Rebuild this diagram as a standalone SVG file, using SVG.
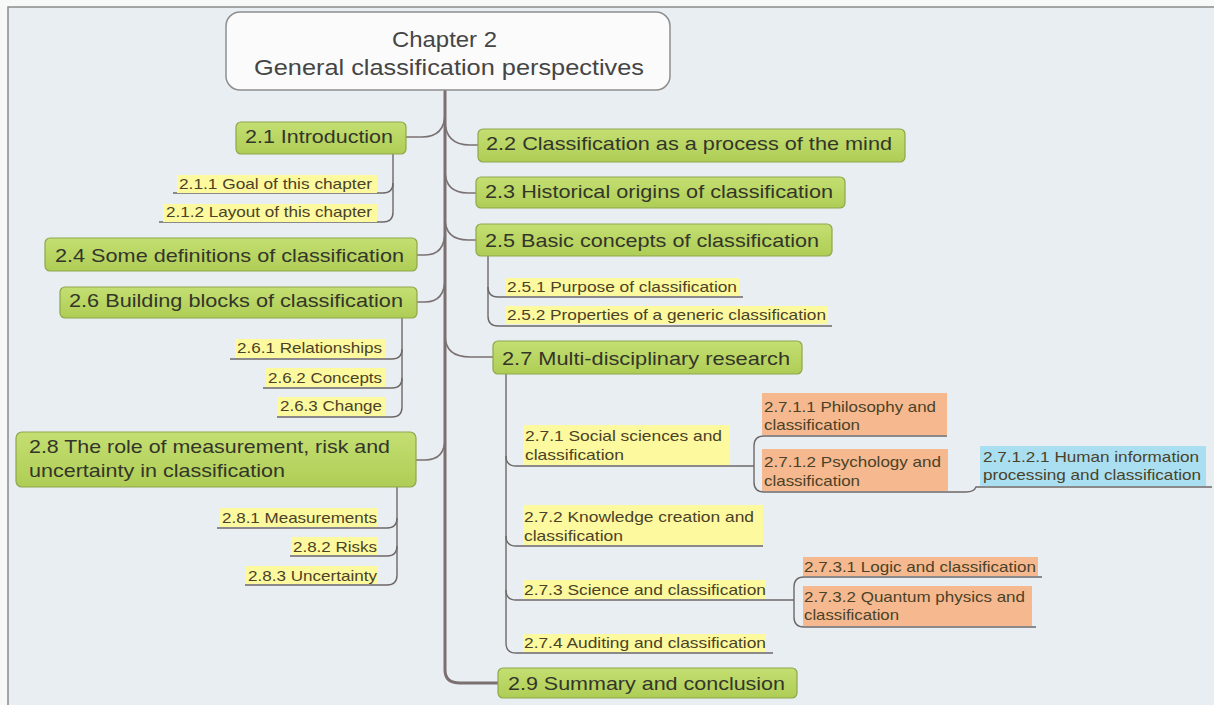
<svg xmlns="http://www.w3.org/2000/svg" width="1214" height="705" viewBox="0 0 1214 705">
<style>
.bg{fill:#e9eef2}
.frame{fill:none;stroke:#8a8a8a;stroke-width:1.5}
.root{fill:#fbfbfb;stroke:#8e8e8e;stroke-width:1.5}
.main{fill:url(#g);stroke:#8fa64c;stroke-width:1.2}
.mt{font-family:"Liberation Sans",Arial,sans-serif;font-size:19px;fill:#34352a}
.rt{font-family:"Liberation Sans",Arial,sans-serif;font-size:22px;fill:#454545}
.st{font-family:"Liberation Sans",Arial,sans-serif;font-size:15px;fill:#4a4228}
.y{fill:#fdf99e}
.o{fill:#f6b98f}
.b{fill:#aadff1}
.trunk{fill:none;stroke:#7b6f70;stroke-width:3}
.c{fill:none;stroke:#7b7172;stroke-width:1.6}
.u{fill:none;stroke:#6e6868;stroke-width:1.4}
</style>
<defs>
<linearGradient id="g" x1="0" y1="0" x2="0" y2="1">
<stop offset="0" stop-color="#c4df72"/>
<stop offset="1" stop-color="#aecd55"/>
</linearGradient>
</defs>
<rect x="0" y="0" width="1214" height="705" fill="#f7f8f8"/>
<rect class="bg" x="8" y="7" width="1206" height="698"/>
<path class="frame" d="M8,705 L8,7 L1214,7"/>

<g id="connectors">
<path class="trunk" d="M445,90 L445,670 Q445,683 460,683 L498,683"/>
<path class="c" d="M406,137 L422,137 Q445,137 445,113"/>
<path class="c" d="M417,255 L425,255 Q445,255 445,231"/>
<path class="c" d="M417,302 L425,302 Q445,302 445,278"/>
<path class="c" d="M416,460 L425,460 Q445,460 445,438"/>
<path class="c" d="M445,120 Q445,145 470,145 L478,145"/>
<path class="c" d="M445,170 Q445,193 468,193 L476,193"/>
<path class="c" d="M445,218 Q445,240 468,240 L476,240"/>
<path class="c" d="M445,335 Q445,357 470,357 L493,357"/>
<path class="u" d="M393,154 L393,212 Q393,222 383,222 L159,222"/>
<path class="u" d="M393,183 Q393,193 383,193 L173,193"/>
<path class="u" d="M488,256 L488,316 Q488,326 498,326 L832,326"/>
<path class="u" d="M488,287 Q488,297 498,297 L743,297"/>
<path class="u" d="M402,318 L402,407 Q402,417 392,417 L277,417"/>
<path class="u" d="M402,349 Q402,359 392,359 L230,359"/>
<path class="u" d="M402,378 Q402,388 392,388 L263,388"/>
<path class="u" d="M397,487 L397,575 Q397,585 387,585 L245,585"/>
<path class="u" d="M397,518 Q397,528 387,528 L217,528"/>
<path class="u" d="M397,546 Q397,556 387,556 L290,556"/>
<path class="u" d="M506,374 L506,643 Q506,653 516,653 L773,653"/>
<path class="u" d="M506,456 Q506,466 516,466 L754,466"/>
<path class="u" d="M506,536 Q506,546 516,546 L763,546"/>
<path class="u" d="M506,590 Q506,600 516,600 L794,600"/>
<path class="u" d="M947,436 L764,436 Q754,436 754,446 L754,482 Q754,492 764,492 L966,492 Q974,492 976,487 L1212,487"/>
<path class="u" d="M1042,577 L804,577 Q794,577 794,587 L794,617 Q794,627 804,627 L1036,627"/>
</g>

<g id="root">
<rect class="root" x="226" y="12" width="444" height="78" rx="14"/>
<text class="rt" x="392" y="47" textLength="105" lengthAdjust="spacingAndGlyphs">Chapter 2</text>
<text class="rt" x="254" y="75" textLength="390" lengthAdjust="spacingAndGlyphs">General classification perspectives</text>
</g>

<g id="n21"><rect class="main" x="236" y="122" width="170" height="32" rx="5"/><text class="mt" x="245" y="143" textLength="148" lengthAdjust="spacingAndGlyphs">2.1 Introduction</text></g>
<g id="n22"><rect class="main" x="478" y="129" width="427" height="33" rx="5"/><text class="mt" x="486" y="150" textLength="406" lengthAdjust="spacingAndGlyphs">2.2 Classification as a process of the mind</text></g>
<g id="n23"><rect class="main" x="476" y="177" width="369" height="31" rx="5"/><text class="mt" x="485" y="198" textLength="348" lengthAdjust="spacingAndGlyphs">2.3 Historical origins of classification</text></g>
<g id="n24"><rect class="main" x="45" y="238" width="372" height="33" rx="5"/><text class="mt" x="55" y="262" textLength="349" lengthAdjust="spacingAndGlyphs">2.4 Some definitions of classification</text></g>
<g id="n25"><rect class="main" x="476" y="224" width="356" height="32" rx="5"/><text class="mt" x="485" y="247" textLength="334" lengthAdjust="spacingAndGlyphs">2.5 Basic concepts of classification</text></g>
<g id="n26"><rect class="main" x="60" y="287" width="357" height="31" rx="5"/><text class="mt" x="69" y="307" textLength="334" lengthAdjust="spacingAndGlyphs">2.6 Building blocks of classification</text></g>
<g id="n27"><rect class="main" x="493" y="341" width="309" height="33" rx="5"/><text class="mt" x="502" y="365" textLength="288" lengthAdjust="spacingAndGlyphs">2.7 Multi-disciplinary research</text></g>
<g id="n28"><rect class="main" x="16" y="432" width="400" height="55" rx="6"/><text class="mt" x="29" y="453" textLength="361" lengthAdjust="spacingAndGlyphs">2.8 The role of measurement, risk and</text><text class="mt" x="29" y="477" textLength="256" lengthAdjust="spacingAndGlyphs">uncertainty in classification</text></g>
<g id="n29"><rect class="main" x="498" y="668" width="299" height="30" rx="5"/><text class="mt" x="508" y="690" textLength="277" lengthAdjust="spacingAndGlyphs">2.9 Summary and conclusion</text></g>

<g id="n211"><rect class="y" x="177" y="175" width="200" height="18"/><text class="st" x="179" y="189" textLength="193" lengthAdjust="spacingAndGlyphs">2.1.1 Goal of this chapter</text></g>
<g id="n212"><rect class="y" x="163" y="204" width="214" height="18"/><text class="st" x="166" y="217" textLength="206" lengthAdjust="spacingAndGlyphs">2.1.2 Layout of this chapter</text></g>
<g id="n251"><rect class="y" x="506" y="278" width="233" height="18"/><text class="st" x="507" y="292" textLength="230" lengthAdjust="spacingAndGlyphs">2.5.1 Purpose of classification</text></g>
<g id="n252"><rect class="y" x="506" y="306" width="322" height="18"/><text class="st" x="507" y="320" textLength="319" lengthAdjust="spacingAndGlyphs">2.5.2 Properties of a generic classification</text></g>
<g id="n261"><rect class="y" x="235" y="339" width="150" height="19"/><text class="st" x="237" y="353" textLength="145" lengthAdjust="spacingAndGlyphs">2.6.1 Relationships</text></g>
<g id="n262"><rect class="y" x="266" y="368" width="119" height="19"/><text class="st" x="268" y="383" textLength="114" lengthAdjust="spacingAndGlyphs">2.6.2 Concepts</text></g>
<g id="n263"><rect class="y" x="278" y="397" width="107" height="19"/><text class="st" x="280" y="411" textLength="102" lengthAdjust="spacingAndGlyphs">2.6.3 Change</text></g>
<g id="n281"><rect class="y" x="220" y="508" width="158" height="19"/><text class="st" x="222" y="523" textLength="155" lengthAdjust="spacingAndGlyphs">2.8.1 Measurements</text></g>
<g id="n282"><rect class="y" x="291" y="537" width="87" height="18"/><text class="st" x="293" y="552" textLength="84" lengthAdjust="spacingAndGlyphs">2.8.2 Risks</text></g>
<g id="n283"><rect class="y" x="246" y="566" width="132" height="18"/><text class="st" x="248" y="581" textLength="129" lengthAdjust="spacingAndGlyphs">2.8.3 Uncertainty</text></g>
<g id="n271"><rect class="y" x="523" y="425" width="207" height="40"/><text class="st" x="525" y="441" textLength="197" lengthAdjust="spacingAndGlyphs">2.7.1 Social sciences and</text><text class="st" x="525" y="460" textLength="99" lengthAdjust="spacingAndGlyphs">classification</text></g>
<g id="n2711"><rect class="o" x="762" y="393" width="185" height="42"/><text class="st" x="764" y="412" textLength="172" lengthAdjust="spacingAndGlyphs">2.7.1.1 Philosophy and</text><text class="st" x="764" y="430" textLength="96" lengthAdjust="spacingAndGlyphs">classification</text></g>
<g id="n2712"><rect class="o" x="762" y="449" width="186" height="42"/><text class="st" x="764" y="467" textLength="177" lengthAdjust="spacingAndGlyphs">2.7.1.2 Psychology and</text><text class="st" x="764" y="486" textLength="96" lengthAdjust="spacingAndGlyphs">classification</text></g>
<g id="n27121"><rect class="b" x="980" y="446" width="226" height="40"/><text class="st" x="983" y="462" textLength="216" lengthAdjust="spacingAndGlyphs">2.7.1.2.1 Human information</text><text class="st" x="983" y="480" textLength="218" lengthAdjust="spacingAndGlyphs">processing and classification</text></g>
<g id="n272"><rect class="y" x="523" y="505" width="240" height="40"/><text class="st" x="524" y="522" textLength="230" lengthAdjust="spacingAndGlyphs">2.7.2 Knowledge creation and</text><text class="st" x="524" y="541" textLength="99" lengthAdjust="spacingAndGlyphs">classification</text></g>
<g id="n273"><rect class="y" x="523" y="580" width="243" height="19"/><text class="st" x="524" y="595" textLength="242" lengthAdjust="spacingAndGlyphs">2.7.3 Science and classification</text></g>
<g id="n2731"><rect class="o" x="803" y="557" width="235" height="19"/><text class="st" x="804" y="572" textLength="232" lengthAdjust="spacingAndGlyphs">2.7.3.1 Logic and classification</text></g>
<g id="n2732"><rect class="o" x="803" y="586" width="229" height="40"/><text class="st" x="804" y="602" textLength="221" lengthAdjust="spacingAndGlyphs">2.7.3.2 Quantum physics and</text><text class="st" x="804" y="620" textLength="95" lengthAdjust="spacingAndGlyphs">classification</text></g>
<g id="n274"><rect class="y" x="523" y="634" width="243" height="18"/><text class="st" x="524" y="648" textLength="242" lengthAdjust="spacingAndGlyphs">2.7.4 Auditing and classification</text></g>
</svg>
